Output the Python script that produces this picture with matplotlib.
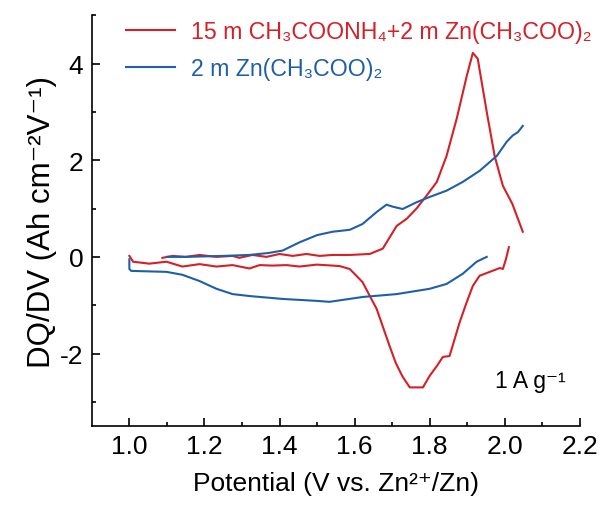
import matplotlib
matplotlib.use('Agg')
import matplotlib.pyplot as plt

plt.rcParams['font.family'] = ['Liberation Sans', 'DejaVu Sans']
plt.rcParams['axes.unicode_minus'] = False

# 15 m CH3COONH4 + 2 m Zn(CH3COO)2
red_up_x = [1.088, 1.115, 1.15, 1.187, 1.232, 1.275, 1.293, 1.328, 1.365, 1.4, 1.435, 1.472, 1.507,
            1.541, 1.587, 1.64, 1.675, 1.712, 1.739, 1.765, 1.792, 1.819, 1.845, 1.872, 1.899, 1.915,
            1.928, 1.952, 1.973, 1.995, 2.02, 2.048]
red_up_y = [-0.02, 0.02, 0.0, 0.04, 0.0, 0.02, -0.02, 0.04, 0.0, 0.06, 0.02, 0.06, 0.02,
            0.04, 0.04, 0.06, 0.17, 0.64, 0.79, 1.0, 1.27, 1.55, 2.09, 2.86, 3.75, 4.22,
            4.1, 3.0, 2.09, 1.47, 1.1, 0.52]
red_down_x = [2.011, 2.003, 1.995, 1.987, 1.96, 1.933, 1.915, 1.899, 1.88, 1.853, 1.835, 1.819, 1.8,
              1.782, 1.765, 1.747, 1.728, 1.71, 1.693, 1.659, 1.621, 1.587, 1.56, 1.541, 1.499, 1.453,
              1.419, 1.381, 1.347, 1.32, 1.275, 1.232, 1.187, 1.141, 1.099, 1.053, 1.01, 1.0]
red_down_y = [0.2, -0.05, -0.25, -0.23, -0.31, -0.39, -0.6, -0.93, -1.35, -2.05, -2.07, -2.26, -2.46,
              -2.7, -2.7, -2.7, -2.48, -2.2, -1.84, -1.08, -0.52, -0.25, -0.19, -0.18, -0.16, -0.2,
              -0.17, -0.18, -0.17, -0.24, -0.17, -0.2, -0.15, -0.2, -0.1, -0.14, -0.1, 0.02]

# 2 m Zn(CH3COO)2
blue_up_x = [1.1, 1.15, 1.2, 1.25, 1.32, 1.37, 1.408, 1.453, 1.5, 1.541, 1.587, 1.621, 1.659,
             1.685, 1.701, 1.728, 1.765, 1.8, 1.845, 1.888, 1.933, 1.979, 2.005, 2.021, 2.035, 2.048]
blue_up_y = [0.0, 0.0, 0.01, 0.02, 0.04, 0.08, 0.13, 0.3, 0.45, 0.52, 0.56, 0.68, 0.93,
             1.08, 1.04, 0.99, 1.13, 1.24, 1.37, 1.55, 1.78, 2.09, 2.38, 2.51, 2.58, 2.71]
blue_down_x = [1.952, 1.925, 1.888, 1.845, 1.8, 1.712, 1.621, 1.533, 1.499, 1.408, 1.32, 1.275,
               1.232, 1.187, 1.141, 1.099, 1.005, 1.0, 1.0]
blue_down_y = [0.0, -0.1, -0.35, -0.56, -0.66, -0.77, -0.83, -0.93, -0.91, -0.87, -0.81, -0.77,
               -0.66, -0.5, -0.37, -0.31, -0.29, -0.25, -0.05]

labels = ['15 m CH\u2083COONH\u2084+2 m Zn(CH\u2083COO)\u2082', '2 m Zn(CH\u2083COO)\u2082']
xticks = [1.0, 1.2, 1.4, 1.6, 1.8, 2.0, 2.2]
xtick_labels = ['1.0', '1.2', '1.4', '1.6', '1.8', '2.0', '2.2']
yticks = [-2, 0, 2, 4]
red = '#d42027'
blue = '#1f5fa8'

fig = plt.figure(figsize=(6.04, 5.06), dpi=100)
ax = fig.add_axes([0.152, 0.156, 0.808, 0.812])

ax.plot(red_up_x, red_up_y, color=red, lw=1.5, label=labels[0])
ax.plot(red_down_x, red_down_y, color=red, lw=1.5)
ax.plot(blue_up_x, blue_up_y, color=blue, lw=1.5, label=labels[1])
ax.plot(blue_down_x, blue_down_y, color=blue, lw=1.5)

ax.set_xlim(0.9, 2.2)
ax.set_ylim(-3.5, 5)
ax.set_xticks(xticks)
ax.set_xticklabels(xtick_labels)
ax.set_xticks([1.1, 1.3, 1.5, 1.7, 1.9, 2.1], minor=True)
ax.set_yticks(yticks)
ax.set_yticks([-3, -1, 1, 3, 5], minor=True)
ax.tick_params(direction='in', which='both', labelsize=19, width=1.2)
ax.tick_params(which='major', length=6)
ax.tick_params(which='minor', length=3)
ax.tick_params(axis='x', pad=6)
ax.tick_params(axis='y', pad=6)
for s in ['top', 'right']:
    ax.spines[s].set_visible(False)
for s in ['left', 'bottom']:
    ax.spines[s].set_linewidth(1.2)

ax.set_xlabel('Potential (V vs. Zn\u00b2\u207a/Zn)', fontsize=19, labelpad=9)
ax.set_ylabel('DQ/DV (Ah cm\u207b\u00b2V\u207b\u00b9)', fontsize=22.5, labelpad=2)

ax.text(1.973, -2.55, '1 A g\u207b\u00b9', fontsize=16.5, va='center')

ax.legend(loc='upper left', bbox_to_anchor=(0.027, 1.04), frameon=False, fontsize=16.7,
          labelcolor='linecolor', handlelength=2.1, handletextpad=0.7, labelspacing=0.62)

fig.savefig('out.png', dpi=100)
